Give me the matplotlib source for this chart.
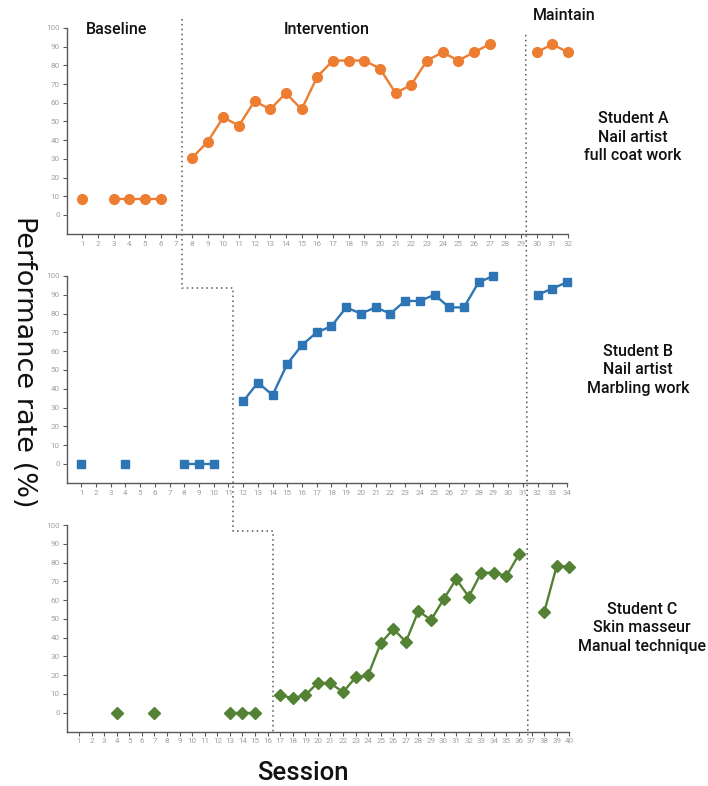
import matplotlib
matplotlib.use('Agg')
import matplotlib.pyplot as plt
from matplotlib.lines import Line2D
import numpy as np

plt.rcParams['font.family'] = ['Roboto', 'DejaVu Sans']

# Student A - nail artist, full coat work
a_base_x = [1, 3, 4, 5, 6]
a_base_y = [8.3, 8.3, 8.3, 8.3, 8.3]
a_int_x = list(range(8, 28))
a_int_y = [30.4, 39.1, 52.2, 47.8, 60.9, 56.5, 65.2, 56.5, 73.9, 82.6,
           82.6, 82.6, 78.3, 65.2, 69.6, 82.6, 87.0, 82.6, 87.0, 91.3]
a_main_x = [30, 31, 32]
a_main_y = [87.0, 91.3, 87.0]

# Student B - nail artist, marbling work
b_base_x = [1, 4, 8, 9, 10]
b_base_y = [0, 0, 0, 0, 0]
b_int_x = list(range(12, 30))
b_int_y = [33.3, 43.3, 36.7, 53.3, 63.3, 70.0, 73.3, 83.3, 80.0, 83.3,
           80.0, 86.7, 86.7, 90.0, 83.3, 83.3, 96.7, 100.0]
b_main_x = [32, 33, 34]
b_main_y = [90.0, 93.3, 96.7]

# Student C - skin masseur, manual technique
c_base_x = [4, 7, 13, 14, 15]
c_base_y = [0, 0, 0, 0, 0]
c_int_x = list(range(17, 37))
c_int_y = [9.4, 7.7, 9.4, 16.0, 15.7, 11.0, 18.8, 20.1, 37.0, 44.6,
           37.8, 54.2, 49.4, 60.4, 71.2, 61.8, 74.6, 74.6, 72.8, 84.4]
c_main_x = [38, 39, 40]
c_main_y = [53.5, 78.2, 77.8]

W, H = 708, 786
fig = plt.figure(figsize=(W / 100, H / 100), dpi=100)

def px_axes(left, top, right, bottom):
    return fig.add_axes([left / W, 1 - bottom / H, (right - left) / W, (bottom - top) / H])

panels = [
    dict(box=(66.5, 28, 568, 233.7), n=32, color='#ED7D31', marker='o', ms=7,
         base=(a_base_x, a_base_y), inter=(a_int_x, a_int_y), main=(a_main_x, a_main_y),
         label='Student A\nNail artist\nfull coat work', lpos=(633, 137)),
    dict(box=(66.5, 276, 567, 482.8), n=34, color='#2E75B6', marker='s', ms=6.2,
         base=(b_base_x, b_base_y), inter=(b_int_x, b_int_y), main=(b_main_x, b_main_y),
         label='Student B\nNail artist\nMarbling work', lpos=(638, 370)),
    dict(box=(66.5, 525, 569.3, 731.5), n=40, color='#548235', marker='D', ms=5.8,
         base=(c_base_x, c_base_y), inter=(c_int_x, c_int_y), main=(c_main_x, c_main_y),
         label='Student C\nSkin masseur\nManual technique', lpos=(642, 628)),
]

axes = []
for p in panels:
    ax = px_axes(*p['box'])
    axes.append(ax)
    ax.set_xlim(0, p['n'])
    ax.set_ylim(-10, 100)
    for key in ('base', 'inter', 'main'):
        xs, ys = p[key]
        # break the line where sessions are missing
        segs = [[0]]
        for i in range(1, len(xs)):
            if xs[i] - xs[i - 1] == 1:
                segs[-1].append(i)
            else:
                segs.append([i])
        for s in segs:
            ax.plot([xs[i] for i in s], [ys[i] for i in s], color=p['color'],
                    marker=p['marker'], ms=p['ms'], lw=1.7, clip_on=False)
    ax.set_yticks(range(0, 101, 10))
    ax.set_xticks(range(1, p['n'] + 1))
    ax.tick_params(axis='both', labelsize=5.8, labelcolor='#a0a0a0', color='#595959',
                   length=3, width=0.8, pad=2)
    for side in ('top', 'right'):
        ax.spines[side].set_visible(False)
    for side in ('left', 'bottom'):
        ax.spines[side].set_color('#595959')
        ax.spines[side].set_linewidth(1.0)
    ax.patch.set_alpha(0)
    fig.text(p['lpos'][0] / W, 1 - p['lpos'][1] / H, p['label'], ha='center', va='center',
             fontsize=11.5, color='#111111', linespacing=1.3, fontweight='medium')

axA, axB, axC = axes

def to_fig(ax, x, y):
    d = ax.transData.transform((x, y))
    return fig.transFigure.inverted().transform(d)

# phase change line (step through panels)
p1 = to_fig(axA, 7.35, 105)
p3 = to_fig(axB, 11.3, 93.6)
p5 = to_fig(axC, 16.45, 96.8)
p6 = to_fig(axC, 16.45, -10)
yb = p3[1]
yc = p5[1]
xs = [p1[0], p1[0], p3[0], p3[0], p5[0], p5[0]]
ys = [p1[1], yb, yb, yc, yc, p6[1]]
dot = dict(color='#555555', lw=1.1, linestyle=(0, (1, 2.2)))
fig.lines.append(Line2D(xs, ys, transform=fig.transFigure, **dot))

# maintain line
m1 = to_fig(axA, 29.3, 96.3)
m2 = to_fig(axC, 36.7, -12)
fig.lines.append(Line2D([m1[0], m2[0]], [m1[1], m2[1]], transform=fig.transFigure, **dot))

hdr = dict(ha='center', va='center', fontsize=11.5, color='#111111', fontweight='medium')
fig.text(117 / W, 1 - 30 / H, 'Baseline', **hdr)
fig.text(327 / W, 1 - 30 / H, 'Intervention', **hdr)
fig.text(564 / W, 1 - 15 / H, 'Maintain', **hdr)

fig.text(303 / W, 1 - 773 / H, 'Session', ha='center', va='center', fontsize=18.5,
         color='#111111', fontweight='medium')
fig.text(24 / W, 1 - 362 / H, 'Performance rate (%)', ha='center', va='center', rotation=-90,
         fontsize=19.5, color='#111111', family='DejaVu Sans')

fig.savefig('out.png', dpi=100, facecolor='white')
